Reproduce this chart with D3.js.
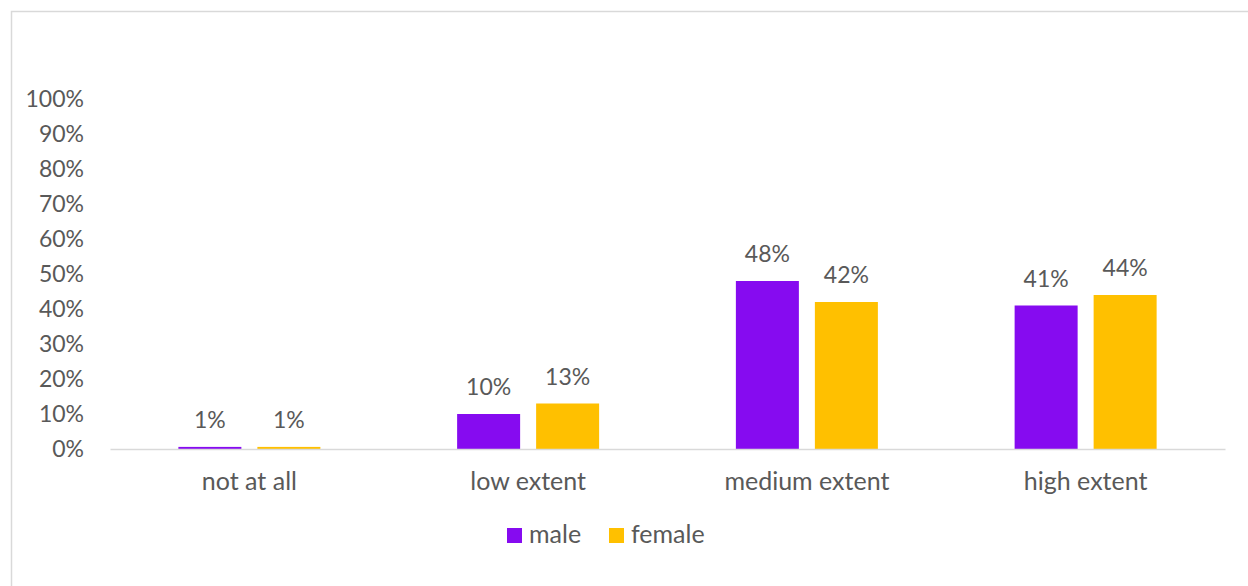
<!DOCTYPE html>
<html><head><meta charset="utf-8">
<script src="https://cdn.jsdelivr.net/npm/d3@7"></script>
<style>html,body{margin:0;padding:0;background:#fff;}svg{display:block;}</style>
</head><body>
<script>
const categories = ["not at all", "low extent", "medium extent", "high extent"];
const seriesNames = ["male", "female"];
const maleValues = [0.006, 0.10, 0.48, 0.41];
const femaleValues = [0.006, 0.13, 0.42, 0.44];
const labelsMale = ["1%", "10%", "48%", "41%"];
const labelsFemale = ["1%", "13%", "42%", "44%"];
const yTicks = [0, 0.1, 0.2, 0.3, 0.4, 0.5, 0.6, 0.7, 0.8, 0.9, 1.0];
const colors = ["#860BF0", "#FFC000"];

const W = 1248, H = 586;
const font = "Lato, 'Open Sans', sans-serif";
const fs = 23, fsText = 25;
const textColor = "#595959";
const svg = d3.select("body").append("svg").attr("width", W).attr("height", H);
svg.append("rect").attr("x", 11.5).attr("y", 11.5).attr("width", W).attr("height", H)
  .attr("fill", "#fff").attr("stroke", "#d9d9d9").attr("stroke-width", 1.5);

const x0 = d3.scaleBand().domain(categories).range([110, 1225]).paddingInner(0).paddingOuter(0);
const y = d3.scaleLinear().domain([0, 1]).range([449, 99]);
const barW = 63, gap = 16;
const x1 = d3.scaleOrdinal().domain(seriesNames).range([-(gap / 2) - barW, gap / 2]);

const data = categories.map((c, i) => ({c, vals: [
  {s: "male", v: maleValues[i], l: labelsMale[i]},
  {s: "female", v: femaleValues[i], l: labelsFemale[i]}]}));

// y axis labels
const yAxis = d3.axisLeft(y).tickValues(yTicks).tickFormat(d3.format(".0%")).tickSize(0);
const ga = svg.append("g").attr("transform", "translate(84,0)").call(yAxis);
ga.select(".domain").remove();
ga.selectAll("text").attr("font-family", font).attr("font-size", fs).attr("fill", textColor).attr("x", 0);

const groups = svg.append("g").selectAll("g").data(data).join("g")
  .attr("transform", d => `translate(${x0(d.c) + x0.bandwidth() / 2},0)`);
groups.selectAll("rect").data(d => d.vals).join("rect")
  .attr("x", d => x1(d.s)).attr("width", barW)
  .attr("y", d => y(d.v)).attr("height", d => y(0) - y(d.v))
  .attr("fill", (d, i) => colors[i]);
groups.selectAll("text").data(d => d.vals).join("text")
  .attr("x", d => x1(d.s) + barW / 2).attr("y", d => y(d.v) - 19)
  .attr("text-anchor", "middle").attr("font-family", font).attr("font-size", fs)
  .attr("fill", textColor).text(d => d.l);

// baseline
const xAxis = d3.axisBottom(x0).tickSize(0).tickPadding(23);
const gx = svg.append("g").attr("transform", `translate(0,${y(0)})`).call(xAxis);
gx.select(".domain").attr("stroke", "#d9d9d9").attr("stroke-width", 1.5);
gx.selectAll("text").attr("font-family", font).attr("font-size", fsText).attr("fill", textColor);

// legend
const legX = [507, 609];
const leg = svg.append("g").selectAll("g").data(seriesNames).join("g")
  .attr("transform", (d, i) => `translate(${legX[i]},528)`);
leg.append("rect").attr("width", 15).attr("height", 15).attr("fill", (d, i) => colors[i]);
leg.append("text").attr("x", 22).attr("y", 15).attr("font-family", font).attr("font-size", fsText)
  .attr("fill", textColor).text(d => d);
</script>
</body></html>
